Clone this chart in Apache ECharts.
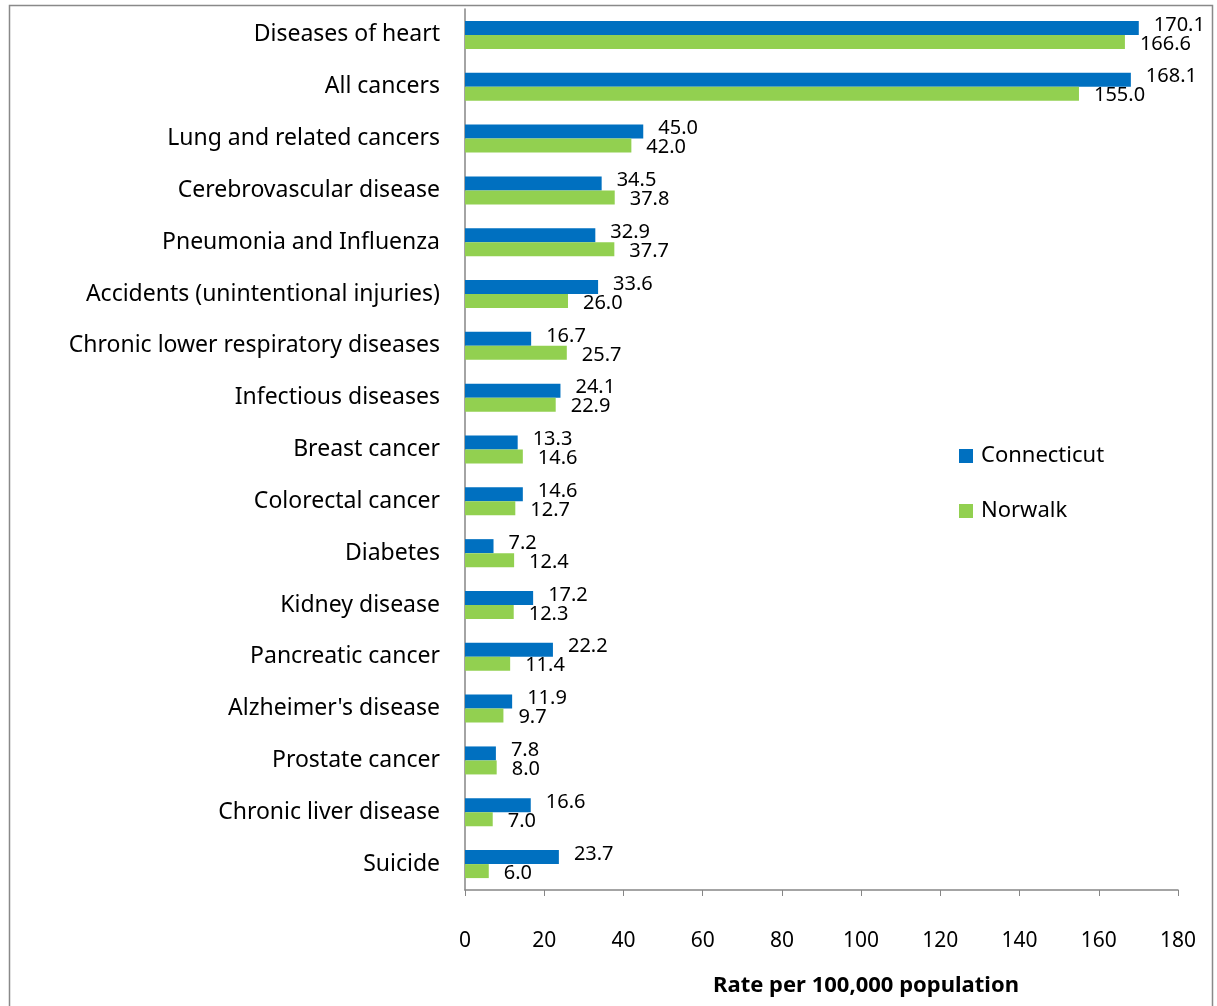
<!DOCTYPE html>
<html><head><meta charset="utf-8">
<script src="https://cdn.jsdelivr.net/npm/echarts@6/dist/echarts.min.js"></script>
<style>html,body{margin:0;padding:0;background:#fff}#c{width:1217px;height:1006px}</style>
</head><body><div id="c"></div>
<script>
const categories = ["Diseases of heart","All cancers","Lung and related cancers","Cerebrovascular disease","Pneumonia and Influenza","Accidents (unintentional injuries)","Chronic lower respiratory diseases","Infectious diseases","Breast cancer","Colorectal cancer","Diabetes","Kidney disease","Pancreatic cancer","Alzheimer's disease","Prostate cancer","Chronic liver disease","Suicide"];
const connecticut = [170.1,168.1,45.0,34.5,32.9,33.6,16.7,24.1,13.3,14.6,7.2,17.2,22.2,11.9,7.8,16.6,23.7];
const norwalk = [166.6,155.0,42.0,37.8,37.7,26.0,25.7,22.9,14.6,12.7,12.4,12.3,11.4,9.7,8.0,7.0,6.0];
const xTicks = [0,20,40,60,80,100,120,140,160,180];
const seriesNames = ["Connecticut","Norwalk"];
const axisTitle = "Rate per 100,000 population";

const FONT = "Noto Sans";
const chart = echarts.init(document.getElementById('c'), null, {renderer:'canvas'});
chart.setOption({
  animation:false,
  textStyle:{fontFamily:FONT},
  graphic:[{type:'rect',shape:{x:9.5,y:5.5,width:1203,height:1010},style:{fill:null,stroke:'#898989',lineWidth:1.5},z:-1}],
  title:{text:axisTitle,left:861,top:970,textAlign:'center',textStyle:{fontFamily:FONT,fontSize:22,fontWeight:'bold',color:'#000'}},
  legend:{orient:'vertical',left:954,top:440,itemWidth:14,itemHeight:14,itemGap:33,icon:'rect',
    textStyle:{fontFamily:FONT,fontSize:22,color:'#000',padding:[0,0,0,3]},data:seriesNames},
  grid:{left:465,top:9,right:39,bottom:116,containLabel:false},
  xAxis:{type:'value',min:0,max:180,interval:20,
    axisLine:{show:true,lineStyle:{color:'#868686',width:1.5}},
    axisTick:{show:true,length:6,lineStyle:{color:'#868686'}},
    splitLine:{show:false},
    axisLabel:{fontFamily:FONT,fontSize:21,color:'#000',margin:41,formatter:v=>xTicks.includes(v)?String(v):''}},
  yAxis:{type:'category',data:categories,inverse:true,
    axisLine:{show:true,lineStyle:{color:'#868686',width:1.5}},
    axisTick:{show:false},
    axisLabel:{fontFamily:FONT,fontSize:23,color:'#000',margin:25,padding:[5,0,0,0]}},
  series:[
    {name:seriesNames[0],type:'bar',data:connecticut,barWidth:14,barGap:'0%',itemStyle:{color:'#0070C0'},
     label:{show:true,position:'right',distance:15,offset:[0,-3],formatter:p=>p.value.toFixed(1),fontFamily:FONT,fontSize:20,color:'#000'}},
    {name:seriesNames[1],type:'bar',data:norwalk,barWidth:14,barGap:'0%',itemStyle:{color:'#92D050'},
     label:{show:true,position:'right',distance:15,offset:[0,2],formatter:p=>p.value.toFixed(1),fontFamily:FONT,fontSize:20,color:'#000'}}
  ]
});
</script></body></html>
